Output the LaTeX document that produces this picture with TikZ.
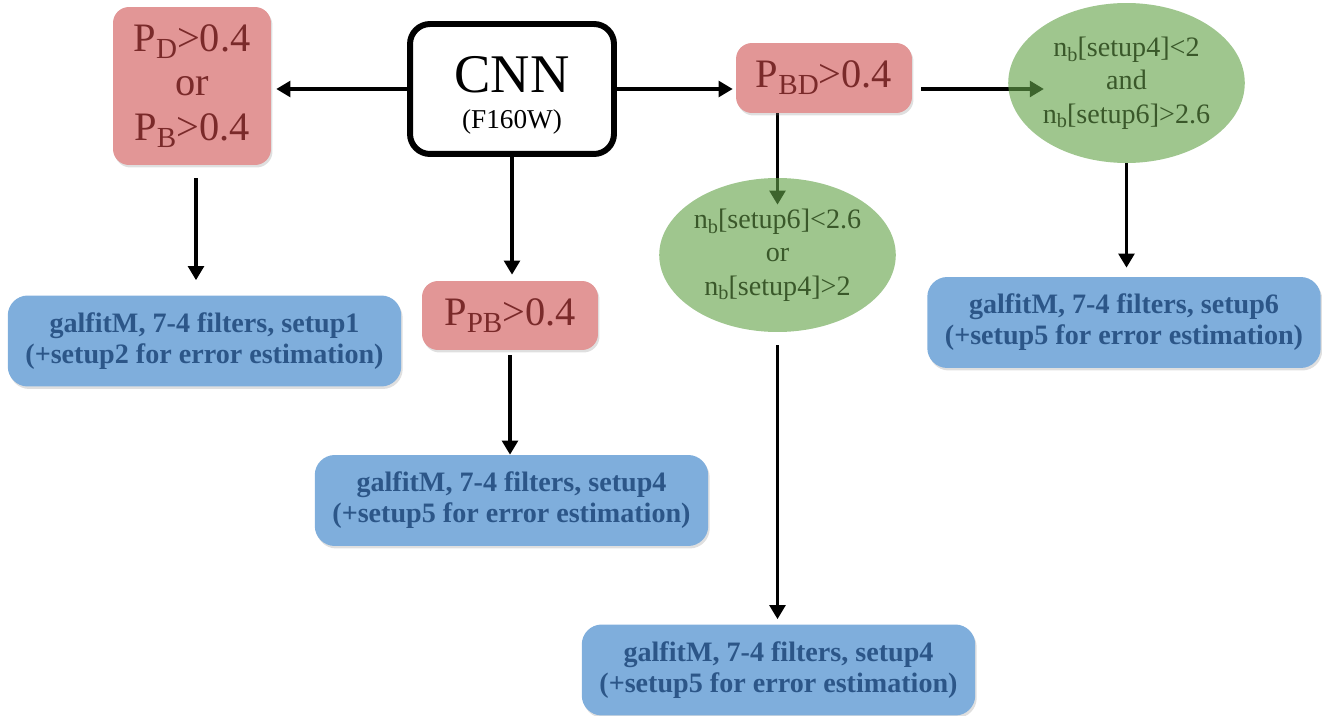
\documentclass[tikz,border=0pt]{standalone}
\usepackage{fontspec}
\setmainfont{Liberation Serif}
\usetikzlibrary{arrows.meta,%
                shapes.geometric,%
                backgrounds,%
                shadows}
\definecolor{cutred}{RGB}{226,150,150}
\definecolor{cuttext}{RGB}{122,42,42}
\definecolor{testgreen}{RGB}{100,163,73}
\definecolor{testtext}{RGB}{58,88,42}
\definecolor{fitblue}{RGB}{127,174,220}
\definecolor{fittext}{RGB}{44,86,136}
\newcommand{\lowsub}[1]{\raisebox{-0.17em}{\scalebox{0.72}{#1}}}

\begin{document}
\begin{tikzpicture}[x=0.02cm,y=-0.02cm]
  \tikzstyle{CutStyle}=[fill=cutred,text=cuttext,rounded corners=0.32cm,inner sep=0pt,
    align=center,font=\fontsize{23}{25.5}\selectfont,
    drop shadow={opacity=0.25,shadow xshift=0.03cm,shadow yshift=-0.05cm}]
  \tikzstyle{TestStyle}=[ellipse,fill=testgreen,fill opacity=0.62,text opacity=1,
    text=testtext,inner sep=0pt,align=center,font=\fontsize{16}{19}\selectfont]
  \tikzstyle{FitStyle}=[fill=fitblue,text=fittext,rounded corners=0.4cm,inner sep=0pt,
    align=center,minimum width=7.87cm,minimum height=1.82cm,
    font=\bfseries\fontsize{16}{17.6}\selectfont,
    drop shadow={opacity=0.25,shadow xshift=0.03cm,shadow yshift=-0.05cm}]
  \tikzstyle{FlowArrow}=[line width=1.8pt,-{Triangle[length=8pt,width=9pt]}]
  \useasboundingbox (0,0) rectangle (1322,716);
  % first cut on the CNN probabilities
  \node[draw,line width=3.4pt,rounded corners=0.4cm,minimum width=4.08cm,minimum height=2.6cm,
    inner sep=0pt,align=center,font=\fontsize{31}{20.5}\selectfont] (cnn) at (512,89)
    {\rule{0pt}{0.96cm}CNN\\{\fontsize{15.5}{17}\selectfont (F160W)}};
  \node[CutStyle,minimum width=3.16cm,minimum height=3.16cm] (pdpb) at (192,86)
    {P\lowsub{D}>0.4\\or\\P\lowsub{B}>0.4};
  \node[CutStyle,minimum width=3.52cm,minimum height=1.4cm] (pbd) at (824,78)
    {P\lowsub{BD}>0.4};
  \node[CutStyle,minimum width=3.52cm,minimum height=1.38cm] (ppb) at (510,315.5)
    {P\lowsub{PB}>0.4};
  % tests on the Sersic index
  \node[TestStyle,minimum width=4.3cm,minimum height=3.2cm] (nband) at (1126.5,83)
    {n\lowsub{b}[setup4]<2\\and\\n\lowsub{b}[setup6]>2.6};
  \node[TestStyle,minimum width=4.38cm,minimum height=3.08cm] (nbor) at (777.5,255)
    {n\lowsub{b}[setup6]<2.6\\or\\n\lowsub{b}[setup4]>2};
  % galfitM runs
  \node[FitStyle] (fitone) at (204.5,341)
    {galfitM, 7-4 filters, setup1\\(+setup2 for error estimation)};
  \node[FitStyle] (fitppb) at (511.5,500.5)
    {galfitM, 7-4 filters, setup4\\(+setup5 for error estimation)};
  \node[FitStyle] (fitor) at (778.5,670)
    {galfitM, 7-4 filters, setup4\\(+setup5 for error estimation)};
  \node[FitStyle] (fitand) at (1124,322.5)
    {galfitM, 7-4 filters, setup6\\(+setup5 for error estimation)};
  \begin{scope}[on background layer]
    \draw[FlowArrow,shorten >=0.1cm] (cnn.west) -- (pdpb.east |- cnn.west);
    \draw[FlowArrow,shorten >=0.06cm] (cnn.east) -- (pbd.west |- cnn.east);
    \draw[FlowArrow,shorten <=0.18cm,shorten >=-0.72cm] (pbd.east |- cnn.east) -- (nband.west |- cnn.east);
    \draw[FlowArrow,shorten >=-0.54cm] (pbd.south -| nbor.north) -- (nbor.north);
    \draw[FlowArrow,shorten >=0.12cm] (cnn.south) -- (ppb.north -| cnn.south);
    \draw[FlowArrow,shorten <=0.26cm,shorten >=0.3cm] ([xshift=0.08cm]pdpb.south) -- ([xshift=0.08cm]pdpb.south |- fitone.north);
    \draw[FlowArrow,shorten <=0.1cm] (ppb.south) -- (fitppb.north -| ppb.south);
    \draw[FlowArrow,shorten <=0.26cm,shorten >=0.1cm] (nbor.south) -- (nbor.south |- fitor.north);
    \draw[FlowArrow,shorten >=0.18cm] (nband.south) -- (nband.south |- fitand.north);
  \end{scope}
\end{tikzpicture}
\end{document}
